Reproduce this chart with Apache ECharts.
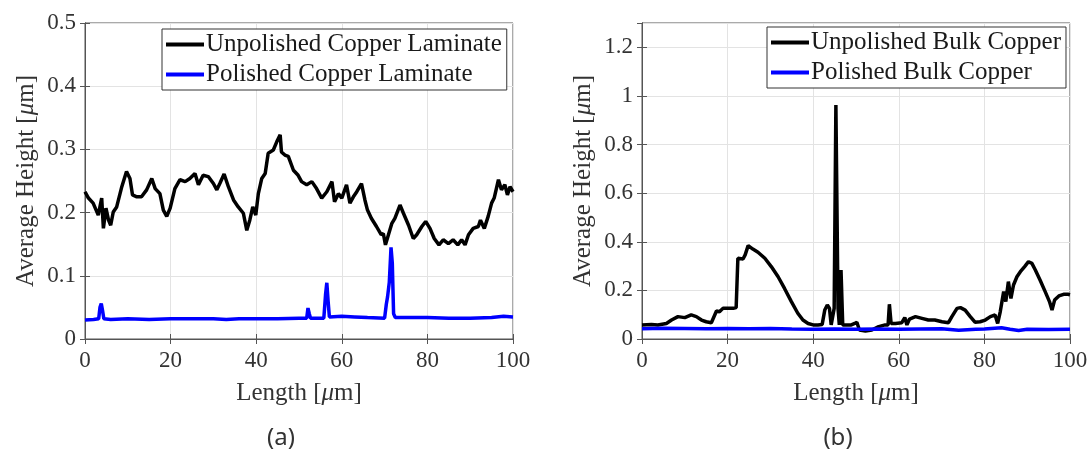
<!DOCTYPE html>
<html>
<head>
<meta charset="utf-8">
<script src="https://cdn.jsdelivr.net/npm/echarts@6/dist/echarts.min.js"></script>
<style>
  html, body { margin: 0; padding: 0; background: #fff; }
  #chart { width: 1091px; height: 453px; }
</style>
</head>
<body>
<div id="chart"></div>
<script>
// (a) copper laminate
const lamUnpolX = [0, 0.8, 1.9, 3.1, 3.9, 4.3, 4.9, 5.5, 6.0, 6.6, 7.4, 8.6, 9.7, 10.5, 11.1, 12.1, 13.2, 14.4, 15.6, 16.4, 17.5, 18.3, 19.1, 19.9, 21.0, 22.2, 23.4, 24.5, 25.7, 26.5, 27.6, 28.8, 30.0, 30.8, 31.5, 32.5, 33.5, 34.7, 35.8, 37.0, 37.8, 38.5, 39.2, 39.9, 40.5, 41.3, 42.1, 42.8, 44.0, 44.8, 45.6, 45.9, 46.7, 47.5, 48.7, 49.8, 50.6, 51.8, 53.0, 54.1, 55.3, 56.5, 57.7, 58.3, 59.2, 60.0, 61.1, 61.9, 62.7, 63.5, 64.6, 65.4, 66.0, 66.9, 68.1, 69.2, 69.7, 70.2, 70.9, 71.7, 72.4, 73.6, 74.4, 75.6, 76.7, 77.5, 78.7, 79.6, 80.6, 81.6, 82.7, 83.7, 84.9, 86.0, 87.1, 88.0, 88.8, 89.6, 90.7, 91.9, 92.4, 93.3, 94.2, 95.0, 95.6, 96.6, 97.3, 98.1, 98.7, 99.3, 100];
const lamUnpolY = [0.233, 0.223, 0.215, 0.196, 0.223, 0.175, 0.207, 0.188, 0.180, 0.201, 0.209, 0.241, 0.265, 0.254, 0.228, 0.225, 0.225, 0.236, 0.254, 0.238, 0.230, 0.204, 0.194, 0.207, 0.238, 0.252, 0.249, 0.254, 0.262, 0.244, 0.259, 0.257, 0.246, 0.236, 0.246, 0.261, 0.241, 0.220, 0.209, 0.199, 0.172, 0.188, 0.209, 0.196, 0.230, 0.254, 0.262, 0.294, 0.299, 0.312, 0.323, 0.296, 0.291, 0.289, 0.267, 0.259, 0.249, 0.244, 0.249, 0.238, 0.223, 0.233, 0.249, 0.217, 0.230, 0.223, 0.244, 0.215, 0.225, 0.233, 0.246, 0.220, 0.204, 0.191, 0.178, 0.165, 0.167, 0.149, 0.165, 0.183, 0.191, 0.212, 0.199, 0.180, 0.159, 0.165, 0.178, 0.186, 0.175, 0.159, 0.149, 0.157, 0.151, 0.157, 0.149, 0.157, 0.149, 0.165, 0.175, 0.178, 0.188, 0.175, 0.194, 0.215, 0.223, 0.252, 0.236, 0.244, 0.228, 0.241, 0.233];
const lamPolX = [0, 2, 3.2, 3.5, 3.8, 4.1, 4.4, 6, 10, 15, 20, 25, 30, 33, 36, 40, 45, 50, 51.8, 52.1, 52.4, 52.7, 55.8, 56.2, 56.5, 56.8, 57.1, 60, 63, 66, 70, 70.4, 70.7, 71.1, 71.5, 71.8, 72.1, 72.5, 76, 80, 85, 90, 95, 97.8, 98.2, 100];
const lamPolY = [0.030, 0.031, 0.032, 0.050, 0.056, 0.045, 0.032, 0.031, 0.032, 0.031, 0.032, 0.032, 0.032, 0.031, 0.032, 0.032, 0.032, 0.033, 0.033, 0.049, 0.040, 0.033, 0.033, 0.070, 0.089, 0.060, 0.035, 0.036, 0.035, 0.034, 0.033, 0.055, 0.067, 0.090, 0.145, 0.120, 0.040, 0.034, 0.034, 0.034, 0.033, 0.033, 0.034, 0.036, 0.034, 0.035];

// (b) bulk copper
const bulkUnpolX = [0, 2.2, 3.7, 5.7, 6.9, 8.4, 10.0, 11.5, 12.7, 13.9, 15.0, 16.2, 17.4, 18.1, 18.9, 20.1, 21.3, 22.0, 22.4, 23.6, 24.1, 24.8, 25.9, 27.1, 28.7, 30.2, 31.8, 33.3, 34.9, 36.4, 37.6, 38.8, 40.0, 41.1, 42.1, 42.7, 43.3, 43.8, 44.2, 44.9, 45.3, 45.8, 46.1, 46.5, 46.9, 47.4, 48.9, 49.7, 50.2, 50.8, 52.2, 53.7, 55.3, 56.8, 57.5, 57.8, 58.2, 59.2, 60.7, 61.4, 61.9, 62.5, 63.9, 65.4, 66.9, 68.4, 70.1, 71.6, 72.4, 73.6, 74.4, 75.5, 76.7, 77.8, 79.0, 80.2, 81.4, 82.5, 83.1, 83.7, 84.5, 85.0, 85.6, 86.2, 86.8, 87.6, 88.4, 89.4, 90.3, 91.1, 91.9, 93.0, 94.2, 95.2, 95.8, 96.4, 97.4, 98.5, 99.5, 100];
const bulkUnpolY = [0.058, 0.060, 0.058, 0.064, 0.078, 0.092, 0.088, 0.099, 0.092, 0.078, 0.071, 0.067, 0.115, 0.112, 0.126, 0.126, 0.126, 0.129, 0.332, 0.329, 0.346, 0.384, 0.370, 0.357, 0.332, 0.298, 0.256, 0.208, 0.154, 0.106, 0.078, 0.064, 0.058, 0.058, 0.060, 0.119, 0.140, 0.126, 0.058, 0.126, 0.963, 0.126, 0.058, 0.284, 0.058, 0.058, 0.058, 0.064, 0.069, 0.037, 0.033, 0.037, 0.051, 0.058, 0.058, 0.143, 0.064, 0.064, 0.067, 0.088, 0.058, 0.082, 0.092, 0.085, 0.078, 0.078, 0.071, 0.067, 0.092, 0.126, 0.129, 0.119, 0.092, 0.069, 0.071, 0.078, 0.092, 0.099, 0.064, 0.112, 0.195, 0.154, 0.236, 0.167, 0.222, 0.256, 0.277, 0.298, 0.318, 0.311, 0.284, 0.243, 0.195, 0.154, 0.119, 0.160, 0.177, 0.184, 0.184, 0.182];
const bulkPolX = [0, 5, 10, 15, 20, 25, 30, 35, 40, 45, 50, 55, 60, 65, 70, 74, 78, 80, 84, 86, 88, 90, 95, 100];
const bulkPolY = [0.042, 0.044, 0.043, 0.042, 0.043, 0.042, 0.043, 0.041, 0.040, 0.041, 0.040, 0.041, 0.040, 0.041, 0.042, 0.036, 0.040, 0.041, 0.046, 0.040, 0.035, 0.040, 0.039, 0.040];

const xTicks = { min: 0, max: 100, interval: 20 };
const yTicksA = { min: 0, max: 0.5, interval: 0.1 };
const yTicksB = { min: 0, max: 1.3, interval: 0.2 };

const names = ['Unpolished Copper Laminate', 'Polished Copper Laminate', 'Unpolished Bulk Copper', 'Polished Bulk Copper'];

const pairs = (xs, ys) => xs.map((x, i) => [x, ys[i]]);

const serif = 'Liberation Serif';
const textCol = '#333';
const boxCol = '#555';

const nameStyle = {
  fontFamily: serif, fontSize: 25, color: textCol,
  rich: { i: { fontFamily: serif, fontSize: 25, fontStyle: 'italic', color: textCol } }
};

const mainX = (grid) => ({
  type: 'value', gridIndex: grid, ...xTicks,
  name: 'Length [{i|μ}m]', nameLocation: 'middle', nameGap: 42, nameTextStyle: nameStyle,
  axisLine: { show: true, lineStyle: { color: boxCol } },
  axisTick: { inside: true, length: 5, lineStyle: { color: boxCol } },
  axisLabel: { fontFamily: serif, fontSize: 23, color: textCol, margin: 10 },
  splitLine: { show: true, lineStyle: { color: '#e3e3e3' } }
});
const topX = (grid) => ({
  type: 'value', gridIndex: grid, position: 'top', ...xTicks,
  axisLine: { show: true, lineStyle: { color: boxCol } },
  axisTick: { inside: true, length: 5, lineStyle: { color: boxCol } },
  axisLabel: { show: false }, splitLine: { show: false }
});
const mainY = (grid, ticks) => ({
  type: 'value', gridIndex: grid, ...ticks,
  name: 'Average Height [{i|μ}m]', nameLocation: 'middle', nameGap: 46, nameTextStyle: nameStyle,
  axisLine: { show: true, lineStyle: { color: boxCol } },
  axisTick: { inside: true, length: 5, lineStyle: { color: boxCol } },
  axisLabel: { fontFamily: serif, fontSize: 23, color: textCol, margin: 9, showMaxLabel: ticks.max === 0.5 },
  splitLine: { show: true, lineStyle: { color: '#e3e3e3' } }
});
const rightY = (grid, ticks) => ({
  type: 'value', gridIndex: grid, position: 'right', ...ticks,
  axisLine: { show: true, lineStyle: { color: boxCol } },
  axisTick: { inside: true, length: 5, lineStyle: { color: boxCol } },
  axisLabel: { show: false }, splitLine: { show: false }
});

const legendBase = {
  orient: 'vertical', icon: 'rect', itemWidth: 38, itemHeight: 4, itemGap: 5,
  padding: [3, 5, 3, 4], backgroundColor: '#fff', borderColor: '#333', borderWidth: 1,
  textStyle: { fontFamily: serif, fontSize: 25, color: '#1a1a1a', padding: [0, 0, 0, -3] }
};

const line = (name, xi, data, color) => ({
  name, type: 'line', xAxisIndex: xi, yAxisIndex: xi, data, symbol: 'none',
  lineStyle: { color, width: 3.5 }, itemStyle: { color }, animation: false
});

const chart = echarts.init(document.getElementById('chart'));
chart.setOption({
  animation: false,
  grid: [
    { left: 85, right: 578, top: 23, bottom: 114, show: true, borderColor: boxCol, borderWidth: 1 },
    { left: 642, right: 21, top: 23, bottom: 114, show: true, borderColor: boxCol, borderWidth: 1 }
  ],
  xAxis: [mainX(0), topX(0), mainX(1), topX(1)],
  yAxis: [mainY(0, yTicksA), rightY(0, yTicksA), mainY(1, yTicksB), rightY(1, yTicksB)],
  legend: [
    { ...legendBase, left: 162, top: 29, data: [names[0], names[1]] },
    { ...legendBase, left: 767, top: 27, data: [names[2], names[3]] }
  ],
  series: [
    line(names[0], 0, pairs(lamUnpolX, lamUnpolY), '#000'),
    line(names[1], 0, pairs(lamPolX, lamPolY), '#0000ff'),
    line(names[2], 2, pairs(bulkUnpolX, bulkUnpolY), '#000'),
    line(names[3], 2, pairs(bulkPolX, bulkPolY), '#0000ff')
  ],
  graphic: [
    { type: 'text', x: 281, y: 438, style: { text: '(a)', align: 'center', verticalAlign: 'middle', font: '24px "Noto Sans"', fill: textCol } },
    { type: 'text', x: 838, y: 438, style: { text: '(b)', align: 'center', verticalAlign: 'middle', font: '24px "Noto Sans"', fill: textCol } }
  ]
});
</script>
</body>
</html>
